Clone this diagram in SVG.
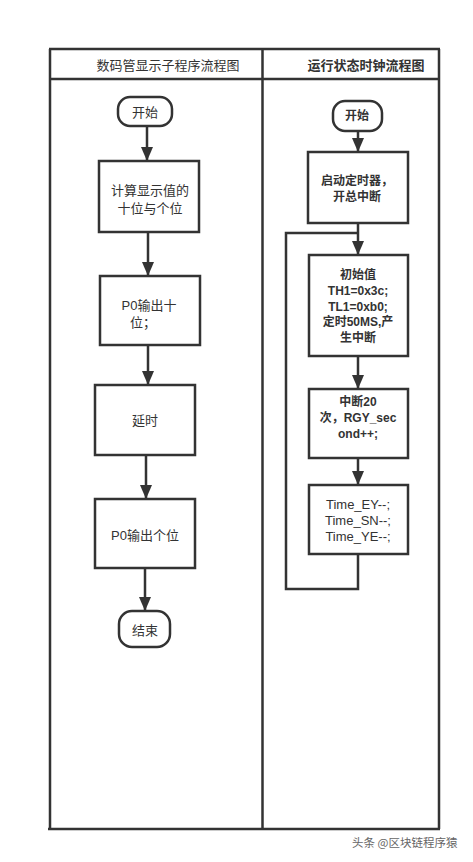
<svg xmlns="http://www.w3.org/2000/svg" width="473" height="862" viewBox="0 0 473 862">
<defs>
<marker id="ah" markerUnits="userSpaceOnUse" markerWidth="14" markerHeight="12" refX="14" refY="6" orient="auto">
<path d="M0,0 L14,6 L0,12 Z" fill="#333"/>
</marker>
<style>
.ln{stroke:#333;stroke-width:2.5;fill:none}
.bx{stroke:#333;stroke-width:2.5;fill:#fff}
.t{font-family:"Liberation Sans","Noto Sans CJK SC",sans-serif;font-size:13px;fill:#333;text-anchor:middle;dominant-baseline:central}
.b{font-weight:bold;font-size:12px}
.h{font-family:"Noto Sans CJK SC","Liberation Sans",sans-serif;font-size:13px;fill:#333;text-anchor:middle;dominant-baseline:central}
.wm{font-family:"Noto Sans CJK SC",sans-serif;font-size:11.5px;fill:#666}
</style>
</defs>
<rect width="473" height="862" fill="#fff"/>
<g id="frame">
<path class="ln" d="M49,49 H440 M50,49 V829 M439,49 V829 M262.5,49 V829 M50,79 H439 M48,829 H440"/>
<text class="h" x="168" y="64">数码管显示子程序流程图</text>
<text class="h" x="366" y="64" font-weight="bold" font-size="12">运行状态时钟流程图</text>
</g>
<g id="connectors">
<path class="ln" d="M147,126 V161" marker-end="url(#ah)"/>
<path class="ln" d="M148,232 V276" marker-end="url(#ah)"/>
<path class="ln" d="M148,345 V385" marker-end="url(#ah)"/>
<path class="ln" d="M146,455 V499" marker-end="url(#ah)"/>
<path class="ln" d="M145,568 V611" marker-end="url(#ah)"/>
<path class="ln" d="M358,131 V152" marker-end="url(#ah)"/>
<path class="ln" d="M358,223 V255" marker-end="url(#ah)"/>
<path class="ln" d="M358,356 V389" marker-end="url(#ah)"/>
<path class="ln" d="M358,458 V485" marker-end="url(#ah)"/>
<path class="ln" d="M358,554 V589 H286 V233 H358"/>
</g>
<g id="l-start">
<rect class="bx" x="118" y="97" width="54" height="29" rx="12"/>
<text class="t" x="145" y="112">开始</text>
</g>
<g id="l-calc">
<rect class="bx" x="99" y="161" width="100" height="71"/>
<text class="t" x="150" y="190">计算显示值的</text>
<text class="t" x="150" y="208">十位与个位</text>
</g>
<g id="l-ten">
<rect class="bx" x="100" y="276" width="100" height="69"/>
<text class="t" x="149" y="305">P0输出十</text>
<text class="t" x="143" y="322">位；</text>
</g>
<g id="l-delay">
<rect class="bx" x="95" y="385" width="100" height="70"/>
<text class="t" x="145" y="420">延时</text>
</g>
<g id="l-one">
<rect class="bx" x="95" y="499" width="100" height="69"/>
<text class="t" x="145" y="535">P0输出个位</text>
</g>
<g id="l-end">
<rect class="bx" x="119" y="611" width="51" height="36" rx="13"/>
<text class="t" x="145" y="630">结束</text>
</g>
<g id="r-start">
<rect class="bx" x="333" y="101" width="49" height="30" rx="12"/>
<text class="t b" x="357" y="116">开始</text>
</g>
<g id="r-timer">
<rect class="bx" x="308" y="152" width="100" height="71"/>
<text class="t b" x="357" y="181">启动定时器，</text>
<text class="t b" x="357" y="197">开总中断</text>
</g>
<g id="r-init">
<rect class="bx" x="309" y="255" width="99" height="101"/>
<text class="t b" x="358" y="275">初始值</text>
<text class="t b" x="358" y="291">TH1=0x3c;</text>
<text class="t b" x="358" y="307">TL1=0xb0;</text>
<text class="t b" x="358" y="322">定时50MS,产</text>
<text class="t b" x="358" y="338">生中断</text>
</g>
<g id="r-int">
<rect class="bx" x="309" y="389" width="99" height="69"/>
<text class="t b" x="358" y="402">中断20</text>
<text class="t b" x="358" y="418">次，RGY_sec</text>
<text class="t b" x="358" y="434">ond++;</text>
</g>
<g id="r-time">
<rect class="bx" x="309" y="485" width="99" height="69"/>
<text class="t" x="358" y="504">Time_EY--;</text>
<text class="t" x="358" y="520">Time_SN--;</text>
<text class="t" x="358" y="536">Time_YE--;</text>
</g>
<text class="wm" x="352" y="847">头条 @区块链程序猿</text>
</svg>
